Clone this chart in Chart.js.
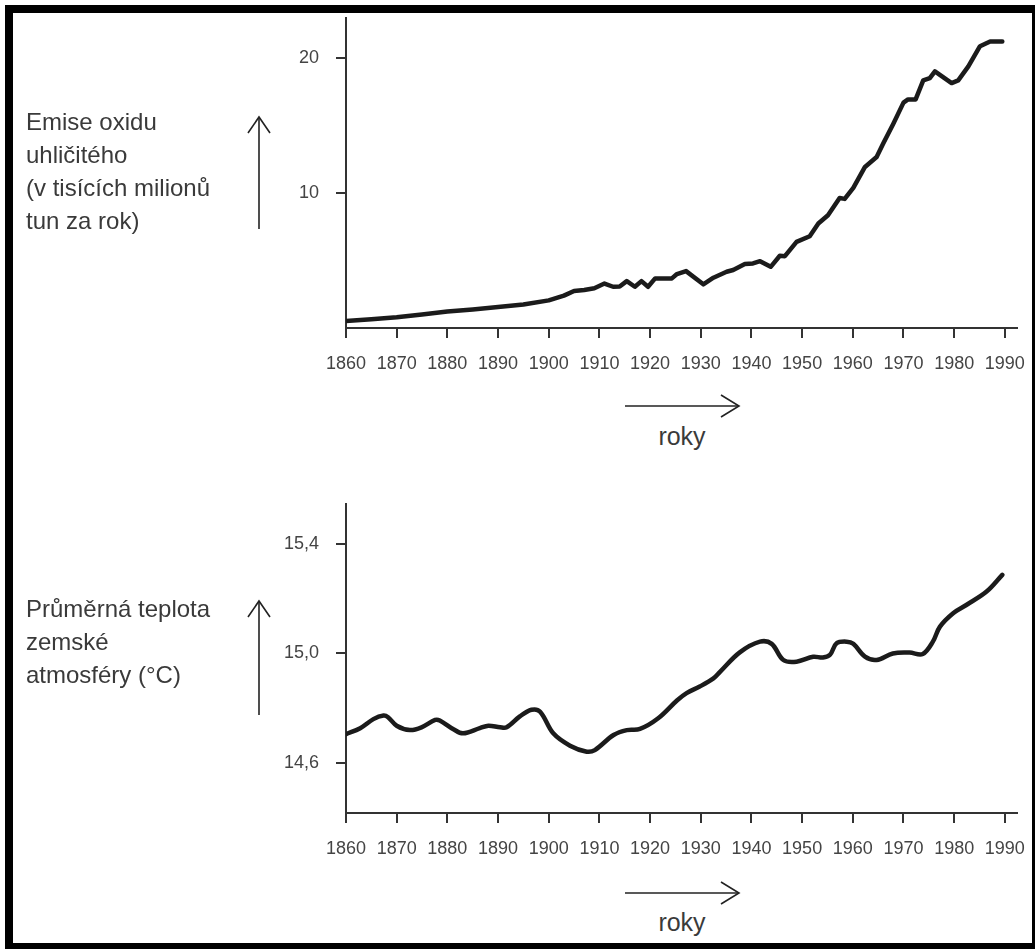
<!DOCTYPE html>
<html>
<head>
<meta charset="utf-8">
<script src="https://cdn.jsdelivr.net/npm/chart.js@4"></script>
<style>
  html, body { margin: 0; padding: 0; background: #fff; overflow: hidden; }
  body { width: 1035px; height: 949px; position: relative; font-family: "Liberation Sans", Arial, sans-serif; color: #3a3a3a; }
  .frame { position: absolute; left: 5px; top: 5px; width: 1035px; height: 946px; border: 8px solid #000; box-sizing: border-box; }
  canvas { position: absolute; left: 0; }
  .lbl { position: absolute; left: 26px; font-size: 24px; line-height: 33px; white-space: nowrap; }
  .roky { position: absolute; left: 632px; width: 100px; text-align: center; font-size: 25px; line-height: 30px; }
  svg { position: absolute; left: 0; top: 0; }
</style>
</head>
<body>
<div class="frame"></div>
<canvas id="co2Chart" width="1035" height="390" style="top:0"></canvas>
<canvas id="tempChart" width="1035" height="400" style="top:480px"></canvas>

<div class="lbl" style="top:105px">Emise oxidu<br>uhličitého<br>(v tisících milionů<br>tun za rok)</div>
<div class="lbl" style="top:592px">Průměrná teplota<br>zemské<br>atmosféry (°C)</div>
<div class="roky" style="top:421px">roky</div>
<div class="roky" style="top:907px">roky</div>

<svg width="1035" height="949">
  <g stroke="#222" stroke-width="1.6" fill="none">
    <line x1="259" y1="117" x2="259" y2="229"/>
    <polyline points="248,133 259,117 270,133"/>
    <line x1="259" y1="601" x2="259" y2="715"/>
    <polyline points="248,617 259,601 270,617"/>
    <line x1="625" y1="406" x2="739" y2="406"/>
    <polyline points="721,395 739,406 721,417"/>
    <line x1="625" y1="893" x2="739" y2="893"/>
    <polyline points="721,882 739,893 721,904"/>
  </g>
</svg>

<script>
// x axis years
const yearTicks = [1860, 1870, 1880, 1890, 1900, 1910, 1920, 1930, 1940, 1950, 1960, 1970, 1980, 1990];

// CO2 emissions (thousands of millions of tonnes per year)
const co2Ticks = [10, 20];
const co2Years = [1860, 1865, 1870, 1875, 1880, 1885, 1890, 1895, 1900, 1903, 1905, 1907, 1909, 1911, 1912.7, 1914,
  1915.4, 1917, 1918.3, 1919.6, 1921, 1924.3, 1925.3, 1927.1, 1930.5, 1932.5, 1935.1, 1936.4, 1938.7, 1940.3,
  1941.7, 1943.8, 1945.6, 1946.6, 1948.9, 1951.5, 1953.2, 1955.1, 1957.4, 1958.4, 1960.1, 1962.4, 1964.7, 1966,
  1968, 1970, 1970.9, 1972.4, 1973.9, 1975.2, 1976.2, 1979.5, 1980.8, 1982.8, 1985.1, 1987.1, 1989.5];
const co2Values = [0.52, 0.65, 0.8, 1.0, 1.22, 1.38, 1.55, 1.75, 2.05, 2.4, 2.75, 2.82, 2.95, 3.3, 3.06, 3.08,
  3.48, 3.06, 3.48, 3.06, 3.68, 3.68, 4.0, 4.22, 3.24, 3.73, 4.17, 4.3, 4.74, 4.79,
  4.96, 4.54, 5.36, 5.33, 6.39, 6.81, 7.75, 8.37, 9.65, 9.58, 10.4, 11.95, 12.69, 13.68,
  15.16, 16.72, 16.96, 16.96, 18.37, 18.54, 19.04, 18.17, 18.37, 19.41, 20.91, 21.26, 21.26];

// average temperature of the atmosphere (°C)
const tempTicks = [14.6, 15.0, 15.4];
const tempYears = [1860, 1862.8, 1865.4, 1867.4, 1868.3, 1870, 1872.6, 1874.9, 1877.6, 1878.5, 1881.2, 1883.1,
  1886.4, 1888.1, 1890.4, 1891.7, 1894.3, 1896.6, 1898.3, 1900.9, 1904.2, 1907.5, 1909.1, 1912.8, 1915.4, 1918,
  1921.6, 1925.3, 1927.2, 1929.8, 1932.5, 1933.8, 1937.7, 1941.7, 1944, 1946.3, 1948.9, 1952.2, 1954.1, 1955.5,
  1956.8, 1958.8, 1960.1, 1962.4, 1964.7, 1967.9, 1971.2, 1973.8, 1975.8, 1977.2, 1979.8, 1982.4, 1986.4, 1989.5];
const tempValues = [14.705, 14.727, 14.76, 14.773, 14.767, 14.736, 14.72, 14.73, 14.757, 14.755, 14.723, 14.708,
  14.727, 14.736, 14.73, 14.73, 14.77, 14.794, 14.787, 14.708, 14.663, 14.641, 14.647, 14.702, 14.72, 14.724,
  14.763, 14.828, 14.855, 14.879, 14.909, 14.933, 15.004, 15.043, 15.035, 14.976, 14.97, 14.988, 14.985, 14.995,
  15.037, 15.043, 15.035, 14.988, 14.976, 15.0, 15.003, 14.998, 15.043, 15.098, 15.147, 15.177, 15.226, 15.287];

const axisColor = '#333';
const textColor = '#444';
const tickFont = { family: '"Liberation Sans", Arial, sans-serif', size: 18 };

function makeChart(id, years, values, yTicks, yMin, yMax, padTop, axisBottom, tension, fmt) {
  const canvas = document.getElementById(id);
  const points = years.map((x, i) => ({ x: x, y: values[i] }));
  return new Chart(canvas, {
    type: 'line',
    data: {
      datasets: [{
        data: points,
        borderColor: '#1b1b1b',
        borderWidth: 4.5,
        pointRadius: 0,
        tension: tension,
        borderJoinStyle: 'round',
        borderCapStyle: 'round'
      }]
    },
    options: {
      responsive: false,
      animation: false,
      events: [],
      layout: { padding: { top: padTop, right: 18, left: 0, bottom: 0 } },
      plugins: { legend: { display: false }, tooltip: { enabled: false } },
      scales: {
        x: {
          type: 'linear',
          min: 1860,
          max: 1992.4,
          afterBuildTicks: s => { s.ticks = yearTicks.map(v => ({ value: v })); },
          afterFit: s => {
            s.height = canvas.height - axisBottom;
            s.paddingLeft = 0;
            s.paddingRight = 0;
          },
          grid: { drawOnChartArea: false, drawTicks: true, tickLength: 10, color: axisColor, lineWidth: 2 },
          border: { display: true, color: axisColor, width: 2 },
          ticks: { color: textColor, font: tickFont, padding: 15, maxRotation: 0, autoSkip: false, callback: v => String(v) }
        },
        y: {
          type: 'linear',
          min: yMin,
          max: yMax,
          afterBuildTicks: s => { s.ticks = yTicks.map(v => ({ value: v })); },
          afterFit: s => {
            s.width = 346;
            s.paddingTop = 0;
            s.paddingBottom = 0;
          },
          grid: { drawOnChartArea: false, drawTicks: true, tickLength: 10, color: axisColor, lineWidth: 2 },
          border: { display: true, color: axisColor, width: 2 },
          ticks: { color: textColor, font: tickFont, padding: 17, callback: fmt }
        }
      }
    }
  });
}

window.addEventListener('DOMContentLoaded', () => {
  makeChart('co2Chart', co2Years, co2Values, co2Ticks, 0, 23, 18, 328, 0, v => String(v));
  makeChart('tempChart', tempYears, tempValues, tempTicks, 14.417, 15.546, 24, 333, 0.35,
    v => v.toFixed(1).replace('.', ','));
});
</script>
</body>
</html>
